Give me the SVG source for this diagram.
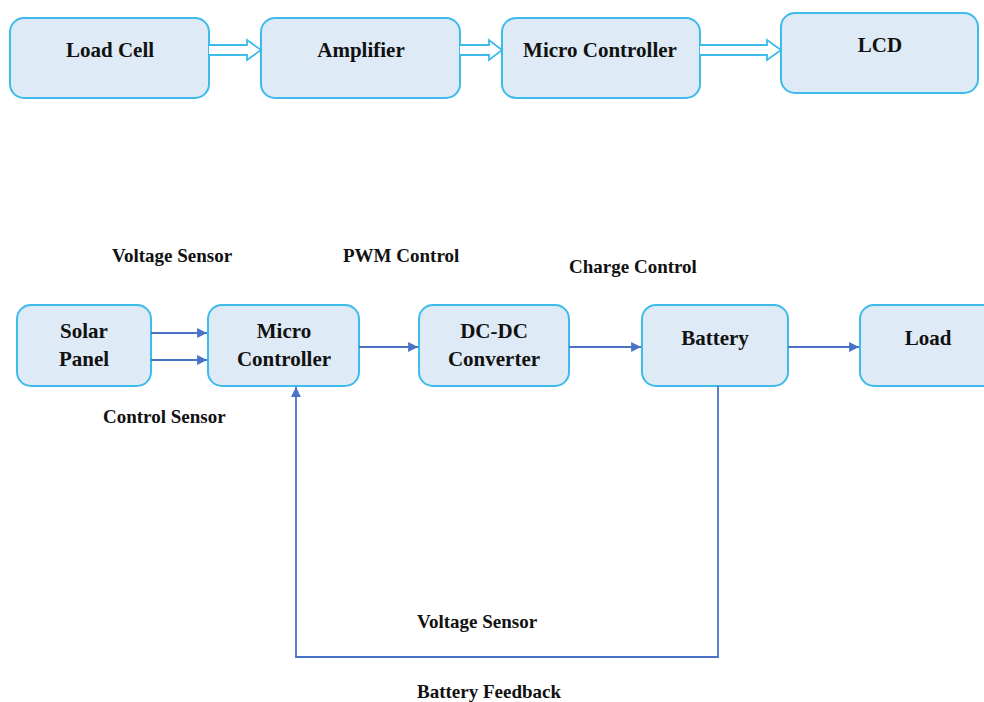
<svg xmlns="http://www.w3.org/2000/svg" width="984" height="702" viewBox="0 0 984 702">
<defs>
<style>
.box{fill:#DEEAF6;stroke:#3DBBEA;stroke-width:2}
.t{font-family:"Liberation Serif","Times New Roman",serif;font-weight:bold;font-size:21px;fill:#111;text-anchor:middle}
.l{font-family:"Liberation Serif","Times New Roman",serif;font-weight:bold;font-size:19px;fill:#111}
.blk{fill:#fff;stroke:#3DBBEA;stroke-width:1.8;stroke-linejoin:miter}
.c{fill:none;stroke:#4A72C8;stroke-width:1.8}
</style>
<marker id="ah" viewBox="0 0 10 10" refX="10" refY="5" markerWidth="5.5" markerHeight="5.5" orient="auto" markerUnits="strokeWidth">
<path d="M0,0 L10,5 L0,10 z" fill="#4A72C8"/>
</marker>
</defs>
<rect width="984" height="702" fill="#fff"/>
<g id="load-cell"><rect class="box" x="10" y="18" width="199" height="80" rx="14"/><text class="t" x="110" y="57">Load Cell</text></g>
<g id="amplifier"><rect class="box" x="261" y="18" width="199" height="80" rx="14"/><text class="t" x="361" y="57">Amplifier</text></g>
<g id="micro-controller-top"><rect class="box" x="502" y="18" width="198" height="80" rx="14"/><text class="t" x="600" y="57">Micro Controller</text></g>
<g id="lcd"><rect class="box" x="781" y="13" width="197" height="80" rx="14"/><text class="t" x="880" y="52">LCD</text></g>
<g id="solar-panel"><rect class="box" x="17" y="305" width="134" height="81" rx="14"/><text class="t" x="84" y="338">Solar</text><text class="t" x="84" y="366">Panel</text></g>
<g id="micro-controller"><rect class="box" x="208" y="305" width="151" height="81" rx="14"/><text class="t" x="284" y="338">Micro</text><text class="t" x="284" y="366">Controller</text></g>
<g id="dc-dc-converter"><rect class="box" x="419" y="305" width="150" height="81" rx="14"/><text class="t" x="494" y="338">DC-DC</text><text class="t" x="494" y="366">Converter</text></g>
<g id="battery"><rect class="box" x="642" y="305" width="146" height="81" rx="14"/><text class="t" x="715" y="345">Battery</text></g>
<g id="load"><rect class="box" x="860" y="305" width="140" height="81" rx="14"/><text class="t" x="928" y="345">Load</text></g>
<g id="connectors">
<path class="blk" d="M209,45 L247,45 L247,40 L261,50 L247,60 L247,55 L209,55"/>
<path class="blk" d="M460,45 L489,45 L489,40 L502,50 L489,60 L489,55 L460,55"/>
<path class="blk" d="M700,45 L767,45 L767,40 L781,50 L767,60 L767,55 L700,55"/>
<line class="c" x1="151" y1="333" x2="207" y2="333" marker-end="url(#ah)"/>
<line class="c" x1="151" y1="360" x2="207" y2="360" marker-end="url(#ah)"/>
<line class="c" x1="359" y1="347" x2="418" y2="347" marker-end="url(#ah)"/>
<line class="c" x1="569" y1="347" x2="641" y2="347" marker-end="url(#ah)"/>
<line class="c" x1="788" y1="347" x2="859" y2="347" marker-end="url(#ah)"/>
<polyline class="c" points="718,386 718,657 296,657 296,387" marker-end="url(#ah)"/>
</g>
<g id="labels">
<text class="l" x="112" y="262">Voltage Sensor</text>
<text class="l" x="343" y="262">PWM Control</text>
<text class="l" x="569" y="273">Charge Control</text>
<text class="l" x="103" y="423">Control Sensor</text>
<text class="l" x="417" y="628">Voltage Sensor</text>
<text class="l" x="417" y="698">Battery Feedback</text>
</g>
</svg>
